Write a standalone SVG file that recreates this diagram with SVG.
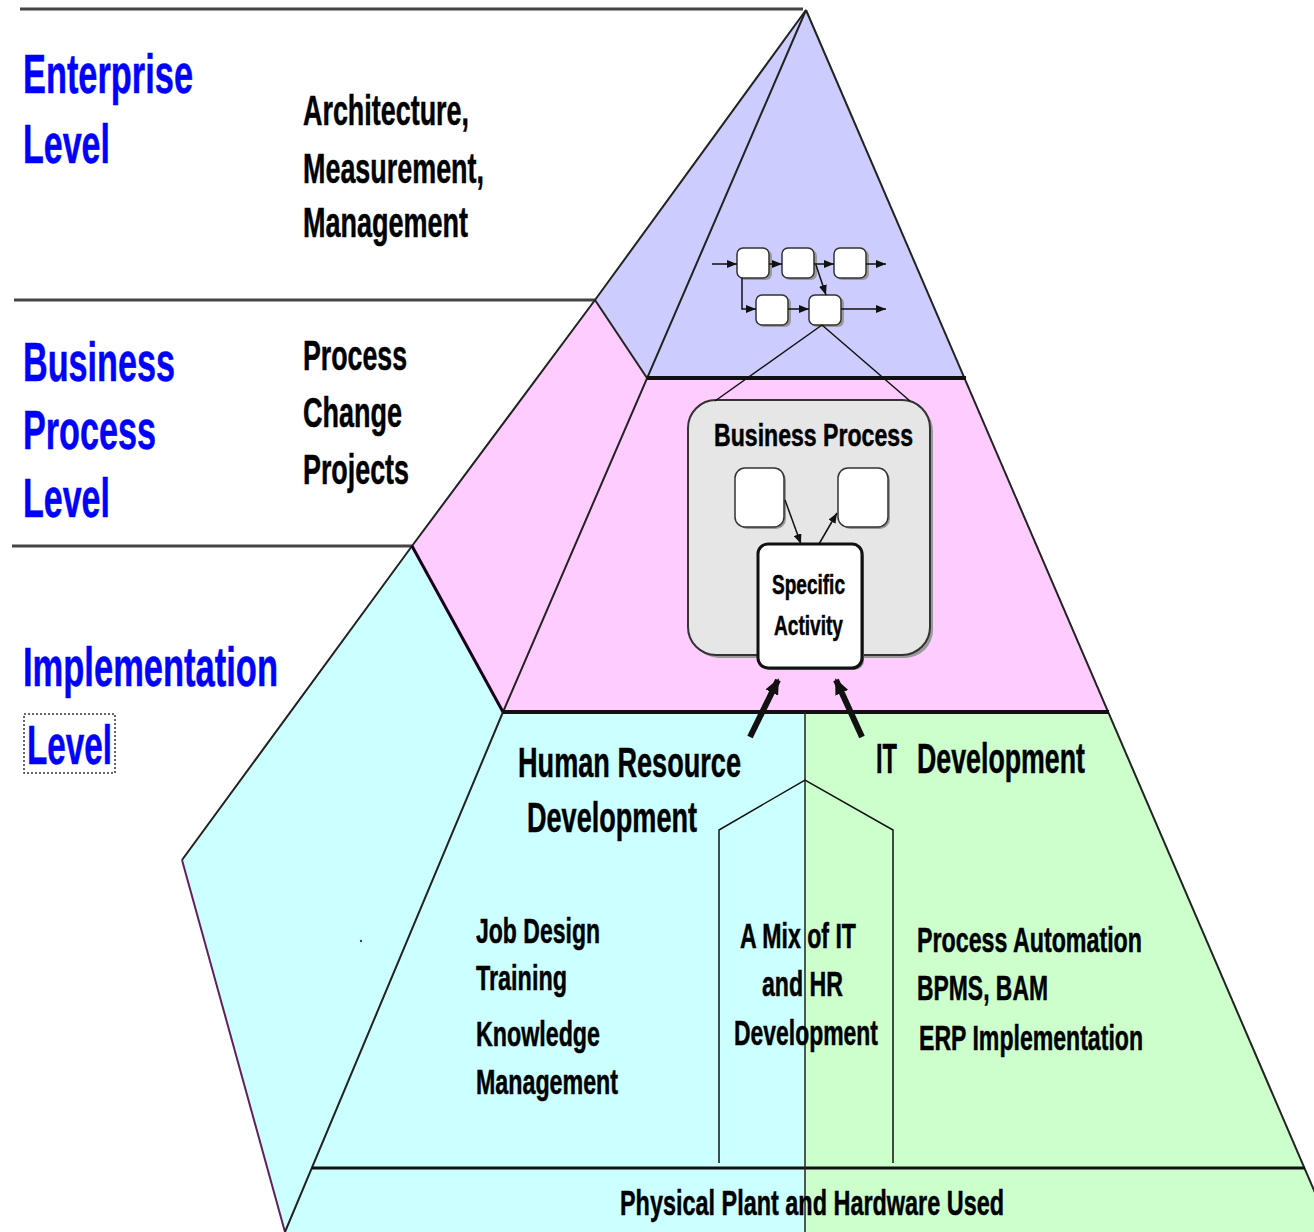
<svg xmlns="http://www.w3.org/2000/svg" width="1314" height="1232" viewBox="0 0 1314 1232">
<style>
text{font-family:"Liberation Sans Narrow","Liberation Sans",Arial,sans-serif;font-weight:bold;stroke-width:0.5}
.blue{fill:#0000ff;stroke:#0000ff;font-size:56px}
.lbl{fill:#000;stroke:#000;font-size:42px}
.mid{fill:#000;stroke:#000;font-size:35px}
.blk{fill:#000;stroke:#000}
.edge{fill:none;stroke:#222;stroke-width:2}
.hline{stroke:#444;stroke-width:3}
.thick{stroke:#111;stroke-width:4}
.thin{fill:none;stroke:#111;stroke-width:1.5}
.box{fill:#fff;stroke:#333;stroke-width:1.5}
.shadow{fill:#999}
</style>
<defs>
<marker id="ah" viewBox="0 0 10 8" refX="10" refY="4" markerWidth="10" markerHeight="8" markerUnits="userSpaceOnUse" orient="auto"><path d="M0,0 L10,4 L0,8 z" fill="#111"/></marker>
<marker id="big" viewBox="0 0 16 14" refX="14" refY="7" markerWidth="16" markerHeight="14" markerUnits="userSpaceOnUse" orient="auto"><path d="M0,0 L16,7 L0,14 z" fill="#111"/></marker>
</defs>
<rect width="1314" height="1232" fill="#fff"/>

<g id="level-lines">
<line class="hline" x1="20" y1="9" x2="803" y2="9"/>
<line class="hline" x1="14" y1="300" x2="595" y2="300"/>
<line class="hline" x1="12" y1="546" x2="412" y2="546"/>
</g>

<g id="pyramid">
<polygon points="806,10 595,300 647,378" fill="#ccccff"/>
<polygon points="806,10 647,378 964,378" fill="#ccccff"/>
<polygon points="595,300 412,546 503,712 647,378" fill="#ffccff"/>
<polygon points="647,378 964,378 1108,712 503,712" fill="#ffccff"/>
<polygon points="412,546 182,860 285,1232 503,712" fill="#ccffff"/>
<polygon points="503,712 805,712 805,1232 285,1232" fill="#ccffff"/>
<polygon points="805,712 1108,712 1332,1232 805,1232" fill="#ccffcc"/>
<polyline class="edge" points="806,10 595,300 412,546 182,860"/>
<line x1="182" y1="860" x2="285" y2="1232" stroke="#602060" stroke-width="2"/>
<line class="edge" x1="595" y1="300" x2="647" y2="378"/>
<line x1="412" y1="546" x2="503" y2="712" stroke="#1a001a" stroke-width="3"/>
<polyline class="edge" points="806,10 503,712 285,1232"/>
<line class="edge" x1="806" y1="10" x2="1332" y2="1232"/>
<line class="thick" x1="647" y1="378" x2="966" y2="378"/>
<line class="thick" x1="503" y1="712" x2="1109" y2="712"/>
<line x1="312" y1="1168" x2="1305" y2="1168" stroke="#111" stroke-width="3"/>
<line x1="805" y1="712" x2="805" y2="1232" stroke="#222" stroke-width="1.5"/>
<polyline class="thin" points="719,1163 719,830 805,780 893,830 893,1163"/>
<circle cx="361" cy="941" r="1.2" fill="#444"/>
</g>

<g id="flow-boxes">
<rect class="shadow" x="739" y="250" width="33" height="30" rx="6"/>
<rect class="box" x="737" y="248" width="32" height="30" rx="6"/>
<rect class="shadow" x="784" y="250" width="33" height="30" rx="6"/>
<rect class="box" x="782" y="248" width="32" height="30" rx="6"/>
<rect class="shadow" x="836" y="250" width="33" height="30" rx="6"/>
<rect class="box" x="834" y="248" width="32" height="30" rx="6"/>
<rect class="shadow" x="758" y="297" width="33" height="30" rx="6"/>
<rect class="box" x="756" y="295" width="32" height="30" rx="6"/>
<rect class="shadow" x="811" y="297" width="33" height="30" rx="6"/>
<rect class="box" x="809" y="295" width="32" height="30" rx="6"/>
</g>

<g id="business-process">
<rect x="691" y="403" width="242" height="255" rx="28" fill="#999"/>
<rect x="688" y="400" width="242" height="255" rx="28" fill="#e6e6e6" stroke="#333" stroke-width="2"/>
<text class="blk" x="714" y="446" font-size="32" textLength="199" lengthAdjust="spacingAndGlyphs">Business Process</text>
<rect class="shadow" x="737" y="470" width="49" height="59" rx="10"/>
<rect class="box" x="735" y="468" width="49" height="59" rx="10"/>
<rect class="shadow" x="840" y="470" width="50" height="59" rx="10"/>
<rect class="box" x="838" y="468" width="50" height="59" rx="10"/>
</g>

<g id="specific-activity">
<rect x="760" y="546" width="104" height="124" rx="10" fill="#777"/>
<rect x="758" y="544" width="104" height="124" rx="10" fill="#fff" stroke="#111" stroke-width="3"/>
<text class="blk" x="772" y="594" font-size="28" textLength="73" lengthAdjust="spacingAndGlyphs">Specific</text>
<text class="blk" x="774" y="635" font-size="28" textLength="69" lengthAdjust="spacingAndGlyphs">Activity</text>
</g>

<g id="connectors">
<line class="thin" x1="712" y1="264" x2="737" y2="264" marker-end="url(#ah)"/>
<line class="thin" x1="769" y1="264" x2="782" y2="264" marker-end="url(#ah)"/>
<line class="thin" x1="814" y1="264" x2="834" y2="264" marker-end="url(#ah)"/>
<line class="thin" x1="866" y1="264" x2="886" y2="264" marker-end="url(#ah)"/>
<polyline class="thin" points="742,278 742,309 756,309" marker-end="url(#ah)"/>
<line class="thin" x1="788" y1="309" x2="809" y2="309" marker-end="url(#ah)"/>
<line class="thin" x1="841" y1="309" x2="886" y2="309" marker-end="url(#ah)"/>
<line class="thin" x1="816" y1="265" x2="826" y2="295" marker-end="url(#ah)"/>
<line class="thin" x1="822" y1="325" x2="715" y2="401"/>
<line class="thin" x1="822" y1="325" x2="910" y2="401"/>
<line class="thin" x1="785" y1="500" x2="801" y2="544" marker-end="url(#ah)"/>
<line class="thin" x1="819" y1="544" x2="837" y2="513" marker-end="url(#ah)"/>
<line x1="750" y1="737" x2="778" y2="680" stroke="#111" stroke-width="6" marker-end="url(#big)"/>
<line x1="862" y1="737" x2="836" y2="680" stroke="#111" stroke-width="6" marker-end="url(#big)"/>
</g>

<g id="level-labels">
<text class="blue" x="23" y="93" textLength="170" lengthAdjust="spacingAndGlyphs">Enterprise</text>
<text class="blue" x="23" y="163" textLength="87" lengthAdjust="spacingAndGlyphs">Level</text>
<text class="blue" x="23" y="381" textLength="152" lengthAdjust="spacingAndGlyphs">Business</text>
<text class="blue" x="23" y="449" textLength="133" lengthAdjust="spacingAndGlyphs">Process</text>
<text class="blue" x="23" y="517" textLength="87" lengthAdjust="spacingAndGlyphs">Level</text>
<text class="blue" x="23" y="686" textLength="255" lengthAdjust="spacingAndGlyphs">Implementation</text>
<text class="blue" x="27" y="764" textLength="85" lengthAdjust="spacingAndGlyphs">Level</text>
<rect x="24" y="714" width="91" height="59" fill="none" stroke="#333" stroke-width="1.5" stroke-dasharray="2,2"/>
</g>

<g id="level-descriptions">
<text class="lbl" x="303" y="125" textLength="166" lengthAdjust="spacingAndGlyphs">Architecture,</text>
<text class="lbl" x="303" y="183" textLength="181" lengthAdjust="spacingAndGlyphs">Measurement,</text>
<text class="lbl" x="303" y="237" textLength="165" lengthAdjust="spacingAndGlyphs">Management</text>
<text class="lbl" x="303" y="370" textLength="104" lengthAdjust="spacingAndGlyphs">Process</text>
<text class="lbl" x="303" y="427" textLength="99" lengthAdjust="spacingAndGlyphs">Change</text>
<text class="lbl" x="303" y="484" textLength="106" lengthAdjust="spacingAndGlyphs">Projects</text>
</g>

<g id="hr-development">
<text class="lbl" x="518" y="777" textLength="223" lengthAdjust="spacingAndGlyphs">Human Resource</text>
<text class="lbl" x="527" y="832" textLength="170" lengthAdjust="spacingAndGlyphs">Development</text>
<text class="mid" x="476" y="943" textLength="124" lengthAdjust="spacingAndGlyphs">Job Design</text>
<text class="mid" x="476" y="990" textLength="91" lengthAdjust="spacingAndGlyphs">Training</text>
<text class="mid" x="476" y="1046" textLength="124" lengthAdjust="spacingAndGlyphs">Knowledge</text>
<text class="mid" x="476" y="1094" textLength="142" lengthAdjust="spacingAndGlyphs">Management</text>
</g>

<g id="it-development">
<text class="lbl" x="876" y="773" textLength="21" lengthAdjust="spacingAndGlyphs">IT</text>
<text class="lbl" x="917" y="773" textLength="168" lengthAdjust="spacingAndGlyphs">Development</text>
<text class="mid" x="917" y="952" textLength="225" lengthAdjust="spacingAndGlyphs">Process Automation</text>
<text class="mid" x="917" y="1000" textLength="131" lengthAdjust="spacingAndGlyphs">BPMS, BAM</text>
<text class="mid" x="919" y="1050" textLength="224" lengthAdjust="spacingAndGlyphs">ERP Implementation</text>
</g>

<g id="mix-development">
<text class="mid" x="740" y="948" textLength="116" lengthAdjust="spacingAndGlyphs">A Mix of IT</text>
<text class="mid" x="762" y="996" textLength="81" lengthAdjust="spacingAndGlyphs">and HR</text>
<text class="mid" x="734" y="1045" textLength="144" lengthAdjust="spacingAndGlyphs">Development</text>
</g>

<g id="physical-plant">
<text class="mid" x="620" y="1215" font-size="33" textLength="384" lengthAdjust="spacingAndGlyphs">Physical Plant and Hardware Used</text>
</g>
</svg>
